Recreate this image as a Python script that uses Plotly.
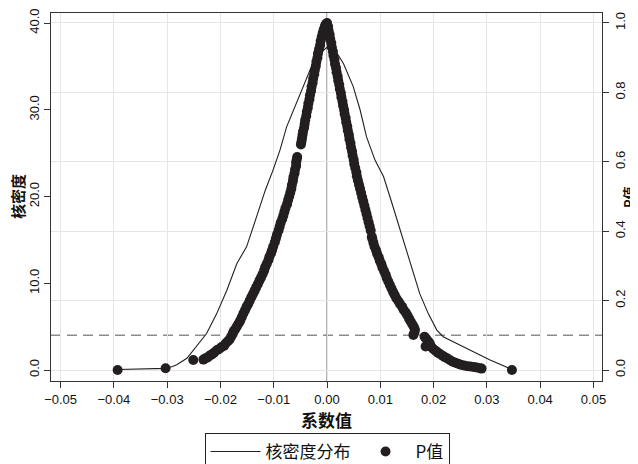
import plotly.graph_objects as go

# ---- Kernel density of placebo coefficients (left axis) ----
kd_x = [-0.0392, -0.0303, -0.0290, -0.0282, -0.0263, -0.0245, -0.0226, -0.0207, -0.0188,
        -0.0169, -0.0151, -0.0132, -0.0116, -0.0101, -0.0088, -0.0076, -0.0063, -0.0044,
        -0.0029, -0.0012, 0.0000, 0.0010, 0.0021, 0.0031, 0.0049, 0.0062, 0.0074, 0.0090,
        0.0106, 0.0121, 0.0143, 0.0159, 0.0174, 0.0190, 0.0206, 0.0218, 0.0231, 0.0268,
        0.0306, 0.0347]
kd_y = [0.05, 0.19, 0.40, 0.60, 1.35, 2.7, 4.2, 6.5, 9.2,
        12.3, 14.2, 17.7, 20.7, 23.1, 25.4, 28.0, 30.0, 32.7,
        35.0, 36.6, 37.2, 36.6, 36.3, 35.3, 32.7, 30.0, 26.9, 24.2,
        22.3, 19.4, 15.0, 11.9, 8.8, 6.5, 4.6, 3.84, 3.46, 2.3,
        1.15, 0.05]

# ---- P values of placebo coefficients (right axis) ----
p_x = [-0.0393, -0.0303, -0.0251, -0.0232, -0.0228, -0.0224, -0.0220, -0.0216, -0.0212, -0.0207,
       -0.0203, -0.0198, -0.0193, -0.0190, -0.0186, -0.0183, -0.0180, -0.0177, -0.0175, -0.0172,
       -0.0169, -0.0166, -0.0163, -0.0160, -0.0157, -0.0154, -0.0151, -0.0148, -0.0145, -0.0142,
       -0.0139, -0.0136, -0.0133, -0.0130, -0.0127, -0.0124, -0.0121, -0.0118, -0.0116, -0.0113,
       -0.0110, -0.0108, -0.0105, -0.0103, -0.0101, -0.0098, -0.0096, -0.0094, -0.0091, -0.0089,
       -0.0087, -0.0084, -0.0082, -0.0080, -0.0078, -0.0075, -0.0073, -0.0071, -0.0069, -0.0067,
       -0.0066, -0.0064, -0.0063, -0.0061, -0.0060, -0.0058, -0.0058, -0.0057, -0.0056,
       -0.0049, -0.0048, -0.0047, -0.0046, -0.0045, -0.0043, -0.0042, -0.0041, -0.0039, -0.0038,
       -0.0036, -0.0035, -0.0033, -0.0032, -0.0030, -0.0029, -0.0027, -0.0026, -0.0024, -0.0023,
       -0.0021, -0.0020, -0.0018, -0.0017, -0.0015, -0.0013, -0.0012, -0.0010, -0.0008, -0.0006,
       -0.0004, -0.0002, 0.0000,
       0.0002, 0.0003, 0.0005, 0.0006, 0.0008, 0.0009, 0.0011, 0.0012, 0.0014, 0.0015,
       0.0017, 0.0018, 0.0020, 0.0021, 0.0023, 0.0024, 0.0026, 0.0027, 0.0029, 0.0030,
       0.0032, 0.0033, 0.0035, 0.0036, 0.0038, 0.0039, 0.0041, 0.0042, 0.0044, 0.0045,
       0.0047, 0.0048, 0.0050, 0.0051, 0.0053, 0.0055, 0.0056, 0.0058, 0.0060, 0.0062,
       0.0064, 0.0066, 0.0068, 0.0070, 0.0072, 0.0074, 0.0076, 0.0078, 0.0080, 0.0082,
       0.0084, 0.0085, 0.0087, 0.0089, 0.0092, 0.0094, 0.0097, 0.0099, 0.0102, 0.0104,
       0.0107, 0.0110, 0.0112, 0.0115, 0.0118, 0.0121, 0.0124, 0.0127, 0.0130, 0.0134,
       0.0137, 0.0141, 0.0144, 0.0148, 0.0151, 0.0154, 0.0157, 0.0160, 0.0163, 0.0165,
       0.0164, 0.0162, 0.0183, 0.0186, 0.0190, 0.0193, 0.0185, 0.0196, 0.0200, 0.0204,
       0.0208, 0.0212, 0.0217, 0.0221, 0.0226, 0.0231, 0.0236, 0.0241, 0.0246, 0.0251,
       0.0257, 0.0263, 0.0269, 0.0275, 0.0281, 0.0287, 0.0290, 0.0347]
p_val = [0.000, 0.005, 0.029, 0.030, 0.034, 0.036, 0.042, 0.045, 0.050, 0.057,
         0.060, 0.066, 0.070, 0.077, 0.083, 0.088, 0.096, 0.104, 0.112, 0.118,
         0.126, 0.134, 0.142, 0.152, 0.163, 0.172, 0.182, 0.190, 0.200, 0.210,
         0.219, 0.228, 0.238, 0.247, 0.257, 0.266, 0.276, 0.287, 0.297, 0.306,
         0.317, 0.327, 0.337, 0.346, 0.356, 0.368, 0.379, 0.390, 0.402, 0.413,
         0.424, 0.435, 0.445, 0.456, 0.467, 0.478, 0.490, 0.500, 0.511, 0.522,
         0.533, 0.545, 0.556, 0.567, 0.578, 0.588, 0.598, 0.606, 0.614,
         0.650, 0.658, 0.667, 0.677, 0.687, 0.698, 0.709, 0.720, 0.732, 0.744,
         0.756, 0.768, 0.780, 0.792, 0.804, 0.816, 0.828, 0.840, 0.852, 0.864,
         0.876, 0.888, 0.900, 0.912, 0.924, 0.936, 0.948, 0.960, 0.972, 0.982,
         0.991, 0.997, 1.000,
         0.990, 0.978, 0.966, 0.954, 0.942, 0.930, 0.918, 0.906, 0.894, 0.882,
         0.870, 0.858, 0.846, 0.834, 0.822, 0.810, 0.798, 0.786, 0.774, 0.762,
         0.750, 0.738, 0.726, 0.714, 0.702, 0.690, 0.678, 0.666, 0.654, 0.642,
         0.630, 0.618, 0.606, 0.594, 0.582, 0.570, 0.558, 0.546, 0.534, 0.522,
         0.510, 0.498, 0.486, 0.474, 0.462, 0.450, 0.438, 0.426, 0.414, 0.402,
         0.384, 0.378, 0.367, 0.356, 0.345, 0.335, 0.325, 0.315, 0.305, 0.295,
         0.285, 0.275, 0.265, 0.255, 0.245, 0.235, 0.225, 0.216, 0.207, 0.198,
         0.190, 0.182, 0.173, 0.165, 0.157, 0.148, 0.140, 0.132, 0.124, 0.116,
         0.108, 0.101, 0.096, 0.090, 0.083, 0.076, 0.068, 0.066, 0.060, 0.055,
         0.050, 0.046, 0.041, 0.037, 0.033, 0.028, 0.024, 0.021, 0.018, 0.015,
         0.013, 0.011, 0.010, 0.009, 0.007, 0.005, 0.004, 0.000]

x_ticks = [-0.05, -0.04, -0.03, -0.02, -0.01, 0.00, 0.01, 0.02, 0.03, 0.04, 0.05]
left_ticks = [0, 10, 20, 30, 40]
right_ticks = [0, 0.2, 0.4, 0.6, 0.8, 1.0]
p_threshold = 0.1
zero_coef = 0.0

FONT = "Liberation Sans, Arial, Noto Sans CJK SC, sans-serif"
CJK = "Noto Sans CJK SC, Liberation Sans, sans-serif"
INK = "#231f20"

fig = go.Figure()
fig.add_trace(go.Scatter(x=kd_x, y=kd_y, mode="lines", name="核密度分布",
                         line=dict(color=INK, width=1.1), yaxis="y"))
fig.add_trace(go.Scatter(x=p_x, y=p_val, mode="markers", name="P值",
                         marker=dict(color=INK, size=10, line=dict(width=0)), yaxis="y2"))

fig.add_shape(type="line", xref="x", yref="paper", x0=zero_coef, x1=zero_coef, y0=0, y1=1,
              line=dict(color="#7a7a7a", width=1.2), layer="below")
fig.add_shape(type="line", xref="paper", yref="y2", x0=0, x1=1, y0=p_threshold, y1=p_threshold,
              line=dict(color="#8c8c8c", width=1.6, dash="10px,6px"), layer="below")

# y-axis titles placed as rotated annotations beside the axes
fig.add_annotation(text="<b>核密度</b>", xref="paper", yref="paper", x=0, y=0.5,
                   xshift=-34, xanchor="center", yanchor="middle", textangle=-90,
                   showarrow=False, font=dict(family=CJK, size=15, color="#111111"))
fig.add_annotation(text="<b>P值</b>", xref="paper", yref="paper", x=1, y=0.5,
                   xshift=26, xanchor="center", yanchor="middle", textangle=-90,
                   showarrow=False, font=dict(family=CJK, size=13, color="#111111"))

axis_common = dict(showline=True, linecolor="#333333", linewidth=1, ticks="outside",
                   ticklen=6, tickcolor="#333333", zeroline=False, automargin=False,
                   tickfont=dict(family=FONT, size=13, color="#111111"))

# the page body adds an 8px offset, so the figure is sized to fit the 638x464 window
fig.update_layout(
    width=630, height=456,
    margin=dict(l=43, r=36, t=5, b=83, autoexpand=False),
    paper_bgcolor="white", plot_bgcolor="white",
    font=dict(family=FONT, color="#111111"),
    xaxis=dict(range=[-0.0518, 0.0516], tickvals=x_ticks, tickformat=".2f",
               mirror=True, showgrid=True, gridcolor="#e6e6e6", gridwidth=1,
               title=dict(text="<b>系数值</b>", font=dict(family=CJK, size=17), standoff=0),
               **axis_common),
    yaxis=dict(range=[-1.268, 41.153], tickvals=left_ticks, tickformat=".1f", tickangle=-90,
               showgrid=False, ticklabelstandoff=0, **axis_common),
    yaxis2=dict(range=[-0.0317, 1.0288], tickvals=right_ticks, tickformat=".1f", tickangle=-90,
                overlaying="y", side="right", showgrid=True, gridcolor="#e6e6e6", gridwidth=1,
                ticklabelstandoff=0, **axis_common),
    legend=dict(orientation="h", x=0.501, xanchor="center", y=-0.141, yanchor="top",
                bordercolor="#222222", borderwidth=1, bgcolor="white",
                font=dict(family=CJK, size=17), itemwidth=50, traceorder="normal"),
    showlegend=True,
)

fig.write_html("out.html")
